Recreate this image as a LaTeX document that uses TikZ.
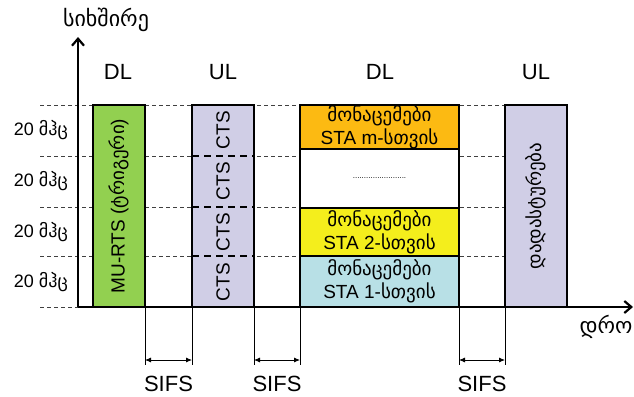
\documentclass[tikz,border=0pt]{standalone}
\usepackage{fontspec}
\usepackage{tikz}
\usetikzlibrary{arrows.meta,positioning,calc}
\setmainfont{Liberation Sans}
\newfontfamily\geo{DejaVu Sans}
\definecolor{rtsGreen}{RGB}{146,208,80}
\definecolor{ulLilac}{RGB}{208,206,230}
\definecolor{staOrange}{RGB}{252,186,18}
\definecolor{staYellow}{RGB}{244,238,28}
\definecolor{staCyan}{RGB}{184,224,230}

\begin{document}
\begin{tikzpicture}[x=1pt,y=-1pt,
    frame/.style={rectangle, draw, line width=2pt, inner sep=0pt, outer sep=0pt},
    grid/.style={line width=0.8pt, dash pattern=on 4pt off 3pt, black!75},
    lbl/.style={font=\fontsize{22}{24}\selectfont, inner sep=0pt},
    mhz/.style={font=\fontsize{18}{20}\selectfont, anchor=east, inner sep=0pt},
    intxt/.style={font=\fontsize{19}{23}\selectfont, align=center, inner sep=0pt},
    sifs/.style={{Latex[length=6pt,width=5pt]}-{Latex[length=6pt,width=5pt]}, line width=0.8pt}]
\useasboundingbox (0,0) rectangle (634,396);

% grid lines behind the boxes
\foreach \y in {105,156,207,256}
  \draw[grid] (40,\y) -- (505,\y);
\draw[grid] (40,307) -- (78,307);
\foreach \y/\n in {130/1,181/2,232/3,282/4}
  \node[mhz] (mhz\n) at (68,\y) {20 {\geo მჰც}};

% DL: MU-RTS
\node[frame, fill=rtsGreen, minimum width=52pt, minimum height=202pt] (murts) at (119,206) {};
\node[intxt, rotate=90] (murtsTxt) at (murts) {MU-RTS ({\geo ტრიგერი})};

% UL: CTS
\node[frame, fill=ulLilac, minimum width=62pt, minimum height=202pt] (cts) at (223,206) {};
\foreach \y in {156,207,256}
  \draw[line width=2pt, dash pattern=on 7pt off 5pt] (192,\y) -- (254,\y);
\foreach \y/\n in {130/1,181/2,232/3,282/4}
  \node[intxt, rotate=90] (cts\n) at (223,\y) {CTS};

% DL: data for the stations
\node[frame, fill=staOrange, minimum width=159pt, minimum height=44pt, intxt] (dataM) at (379.5,127)
  {{\geo მონაცემები}\\STA m-{\geo სთვის}};
\node[frame, fill=white, minimum width=159pt, minimum height=59pt, below=0pt of dataM] (dataDots)
  {\fontsize{8}{8}\selectfont ........................};
\node[frame, fill=staYellow, minimum width=159pt, minimum height=48pt, intxt, below=0pt of dataDots] (dataTwo)
  {{\geo მონაცემები}\\STA 2-{\geo სთვის}};
\node[frame, fill=staCyan, minimum width=159pt, minimum height=51pt, intxt, below=0pt of dataTwo] (dataOne)
  {{\geo მონაცემები}\\STA 1-{\geo სთვის}};

% UL: acknowledgement
\node[frame, fill=ulLilac, minimum width=62pt, minimum height=202pt] (ack) at (536,206) {};
\node[intxt, rotate=90] (ackTxt) at (ack) {\geo დადასტურება};

% DL / UL labels
\node[lbl] (lDL1) at (118,72) {DL};
\node[lbl] (lUL1) at (223,72) {UL};
\node[lbl] (lDL2) at (380,72) {DL};
\node[lbl] (lUL2) at (536,72) {UL};

% axes
\coordinate (O) at (78,307);
\coordinate (ytip) at (78,37);
\coordinate (xtip) at (633,307);
\draw[line width=2.2pt, -{Straight Barb[length=7pt,width=12pt]}] (O) -- (ytip);
\draw[line width=2.2pt, -{Straight Barb[length=7pt,width=12pt]}] (O) -- (xtip);
\node[lbl] (freq) at (106,20) {\geo სიხშირე};
\node[lbl] (time) at (606,327) {\geo დრო};

% SIFS gaps
\foreach \a/\b/\n in {murts/cts/1,cts/dataOne/2,dataOne/ack/3}{
  \draw[line width=0.8pt] (\a.south east) -- ++(0,58) coordinate (t\n a);
  \draw[line width=0.8pt] (\b.south west) -- ++(0,58) coordinate (t\n b);
  \draw[sifs] ($(t\n a)+(0,-5)$) -- ($(t\n b)+(0,-5)$);
  \node[lbl] (sifs\n) at ($(t\n a)!0.5!(t\n b)+(0,19)$) {SIFS};
}
\end{tikzpicture}
\end{document}
